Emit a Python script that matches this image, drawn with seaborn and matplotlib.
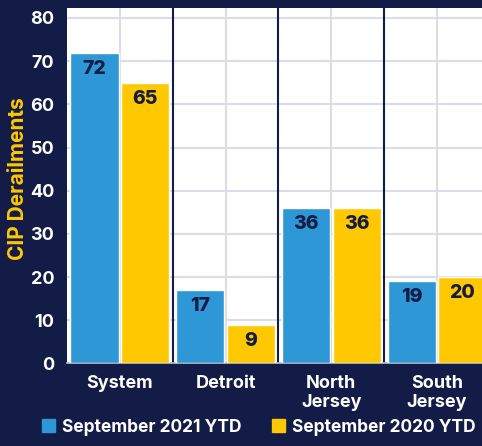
import pandas as pd
import matplotlib
matplotlib.use('Agg')
import matplotlib.pyplot as plt
import seaborn as sns

# chart data
regions = ['System', 'Detroit', 'North\nJersey', 'South\nJersey']
ytd_2021 = [72, 17, 36, 19]
ytd_2020 = [65, 9, 36, 20]
series = ['September 2021 YTD', 'September 2020 YTD']
y_ticks = [0, 10, 20, 30, 40, 50, 60, 70, 80]

navy = '#121c47'
blue = '#2e97d5'
yellow = '#ffc800'

df = pd.DataFrame({
    'region': regions * 2,
    'value': ytd_2021 + ytd_2020,
    'series': [series[0]] * len(regions) + [series[1]] * len(regions),
})

sns.set_theme(style='white')
plt.rcParams['font.family'] = ['Inter', 'DejaVu Sans']
plt.rcParams['font.weight'] = 'bold'

fig = plt.figure(figsize=(4.82, 4.46), dpi=100, facecolor=navy)
ax = fig.add_axes([0.139, 0.185, 0.861, 0.797])
ax.set_facecolor('white')

sns.barplot(data=df, x='region', y='value', hue='series', order=regions,
            hue_order=series, palette=[blue, yellow], width=0.96, gap=0.05,
            saturation=1, ax=ax, zorder=3, legend=True)

for c in ax.containers:
    ax.bar_label(c, padding=-18, color=navy, fontsize=14, fontweight='heavy')

ax.set_ylim(0, 82.3)
ax.set_xlim(-0.5, 3.425)
ax.set_yticks(y_ticks)
ax.grid(True, color='#dcdce6', linewidth=1.5, zorder=0)
for b in [0.5, 1.5, 2.5]:
    ax.axvline(b, color=navy, linewidth=1.5, zorder=2)

for s in ['top', 'right', 'left']:
    ax.spines[s].set_visible(False)
ax.spines['bottom'].set_color('#b8bccb')

ax.tick_params(axis='both', length=0, colors='white', labelsize=13)
ax.tick_params(axis='x', pad=8)
ax.tick_params(axis='y', pad=9)
for lbl in ax.get_xticklabels() + ax.get_yticklabels():
    lbl.set_fontweight('bold')
    lbl.set_linespacing(1.15)

ax.set_xlabel('')
ax.set_ylabel('CIP Derailments', color=yellow, fontsize=15, fontweight='bold')
ax.yaxis.set_label_coords(-0.095, 0.52)

ax.legend().remove()
handles = [plt.Rectangle((0, 0), 1, 1, color=blue), plt.Rectangle((0, 0), 1, 1, color=yellow)]
fig.legend(handles, series, loc='lower center', ncol=2, frameon=False,
           bbox_to_anchor=(0.537, -0.012), handlelength=0.75, handleheight=0.75,
           handletextpad=0.4, columnspacing=1.8,
           prop={'size': 12.5, 'weight': 'bold'}, labelcolor='white')

fig.savefig('out.png', dpi=100, facecolor=navy)
